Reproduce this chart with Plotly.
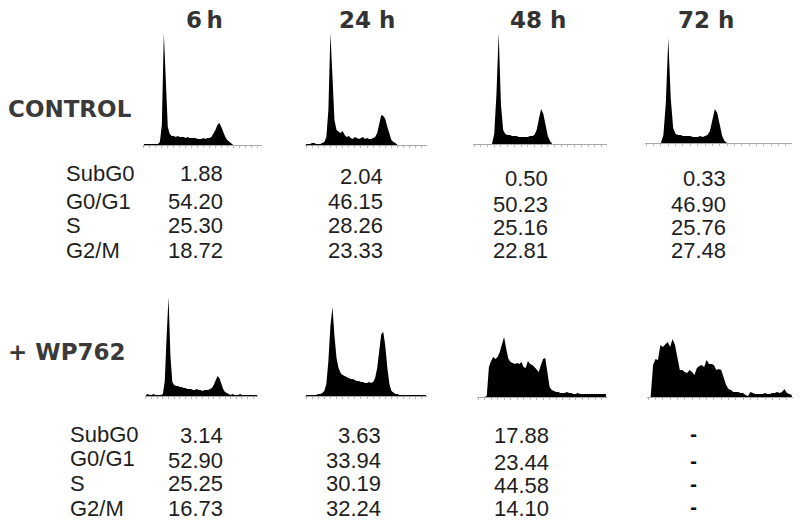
import plotly.graph_objects as go

# ---------------- data ----------------
times = ["6\u2009h", "24 h", "48 h", "72 h"]
groups = ["CONTROL", "+ WP762"]
phases = ["SubG0", "G0/G1", "S", "G2/M"]

ctrl_6h = [1.88, 54.20, 25.30, 18.72]
ctrl_24h = [2.04, 46.15, 28.26, 23.33]
ctrl_48h = [0.50, 50.23, 25.16, 22.81]
ctrl_72h = [0.33, 46.90, 25.76, 27.48]
wp_6h = [3.14, 52.90, 25.25, 16.73]
wp_24h = [3.63, 33.94, 30.19, 32.24]
wp_48h = [17.88, 23.44, 44.58, 14.10]
wp_72h = [None, None, None, None]

# DNA-content histograms (cell counts per channel, 60 channels)
hist_ctrl_6h = [1, 1, 1, 1, 1, 1, 1, 1,
                3, 20, 112, 60, 18, 11,
                9, 9, 8, 9, 8, 8, 8, 7, 8, 7, 7, 7, 7, 6, 6, 6, 7, 6, 7, 7,
                8, 11, 15, 20, 22, 18, 12, 8, 5, 3, 2,
                0, 0, 0, 0, 0, 0, 0, 0, 0, 0, 0, 0, 0, 0, 0]
hist_ctrl_24h = [1, 1, 1, 2, 2, 1, 1, 1, 2, 3,
                 8, 35, 112, 70, 25, 15,
                 13, 12, 14, 10, 8, 9, 7, 6, 8, 7, 6, 7, 8, 6, 7, 6, 6, 7,
                 8, 12, 22, 30, 29, 26, 18, 10, 5, 3, 2,
                 0, 0, 0, 0, 0, 0, 0, 0, 0, 0, 0, 0, 0, 0, 0]
hist_ctrl_48h = [0, 0, 0, 0, 0, 0, 0, 0, 0,
                 10, 50, 111, 40, 14,
                 10, 9, 9, 8, 8, 8, 7, 7, 7, 7, 7, 8, 8, 9,
                 14, 25, 35, 30, 18, 8, 3,
                 0, 0, 0, 0, 0, 0, 0, 0, 0, 0, 0, 0, 0, 0, 0, 0, 0, 0, 0, 0, 0, 0, 0, 0, 0]
hist_ctrl_72h = [0, 0, 0, 0, 0, 0, 0,
                 8, 40, 105, 45, 15,
                 9, 8, 8, 7, 7, 7, 7, 6, 6, 6, 7, 6, 7, 8,
                 12, 24, 34, 30, 18, 7, 2,
                 0, 0, 0, 0, 0, 0, 0, 0, 0, 0, 0, 0, 0, 0, 0, 0, 0, 0, 0, 0, 0, 0, 0, 0, 0, 0, 0]
hist_wp_6h = [1, 2, 1, 1, 2, 1, 1, 1, 1, 2,
              15, 60, 99, 40, 14,
              11, 10, 10, 9, 9, 8, 8, 7, 7, 7, 6, 6, 7, 6, 6, 5, 6, 6, 6, 7, 8,
              11, 16, 20, 18, 12, 7, 4, 3,
              2, 1, 2, 1, 1, 1, 2, 1, 1, 1, 1, 1, 1, 1, 1, 1]
hist_wp_24h = [1, 1, 1, 1, 1, 1, 2, 2, 3, 5,
               12, 35, 70, 89, 60, 38, 28, 23,
               21, 20, 19, 18, 17, 17, 16, 15, 15, 14, 14, 13, 13, 14, 13, 14,
               18, 28, 45, 62, 64, 50, 28, 12, 5, 3,
               2, 2, 1, 1, 1, 1, 1, 1, 1, 1, 1, 1, 1, 1, 1, 1]
hist_wp_48h = [0, 0, 0, 0, 1,
               30, 36, 40, 38, 40, 45, 52, 60, 48, 38,
               35, 34, 33, 34, 33, 35, 30, 29, 36, 33, 32, 30, 27, 25, 32,
               38, 39, 25, 10, 7,
               6, 5, 5, 4, 4, 4, 5, 4, 4, 3, 3, 4, 3, 3, 3, 3, 3, 3, 3, 3, 3, 3, 3, 3, 3]
hist_wp_72h = [0, 0, 32, 38, 37, 52, 50, 53, 55, 50, 58, 52, 40, 27, 27, 25, 24, 27, 25, 22,
               29, 31, 32, 30, 37, 33, 33, 32, 27, 28, 27, 20, 12, 8, 7, 5, 5, 5, 4, 4,
               2, 1, 5, 4, 3, 3, 3, 3, 4, 3, 3, 4, 4, 5, 4, 5, 8, 4, 3, 2]

# ---------------- layout helpers ----------------
W, H = 800, 524


def px(x):
    return x / W


def py(y):
    return 1 - y / H


fig = go.Figure()

# panel geometry: (x_left, x_right, baseline_y) in pixels
panels = [
    (hist_ctrl_6h, 143, 262, 145),
    (hist_ctrl_24h, 305, 427, 145),
    (hist_ctrl_48h, 473, 607, 144),
    (hist_ctrl_72h, 645, 792, 143),
    (hist_wp_6h, 145, 258, 396),
    (hist_wp_24h, 305, 427, 396),
    (hist_wp_48h, 477, 607, 397),
    (hist_wp_72h, 647, 793, 397),
]
YMAX = 120
for i, (vals, x0, x1, base) in enumerate(panels, start=1):
    n = len(vals)
    fig.add_trace(go.Scatter(
        x=list(range(n)), y=vals, mode="lines",
        line=dict(color="black", width=0), fill="tozeroy", fillcolor="black",
        xaxis=f"x{i}", yaxis=f"y{i}", showlegend=False, hoverinfo="skip"))
    fig.update_layout(**{
        f"xaxis{i}": dict(domain=[px(x0), px(x1)], range=[-0.5, n - 0.5],
                          anchor=f"y{i}", showline=True, linecolor="#a8a8a8",
                          linewidth=1, ticks="outside", ticklen=2, tickcolor="#b8b8b8",
                          dtick=3, showticklabels=False, showgrid=False,
                          zeroline=False, fixedrange=True),
        f"yaxis{i}": dict(domain=[py(base), py(base - YMAX)], range=[0, YMAX],
                          anchor=f"x{i}", visible=False, fixedrange=True),
    })

ann = []
head_font = dict(family="DejaVu Sans", size=23, color="#333333")
# column headings
for t, cx in zip(times, [205, 367, 538, 706]):
    ann.append(dict(text=f"<b>{t}</b>", x=px(cx), y=py(20), xanchor="center",
                    yanchor="middle", font=head_font))
# row labels
for g, cy in zip(groups, [109, 352]):
    ann.append(dict(text=f"<b>{g}</b>", x=px(6), y=py(cy), xanchor="left",
                    yanchor="middle", font=dict(family="DejaVu Sans", size=23, color="#3a3a3a")))

tab_font = dict(family="Liberation Sans", size=22, color="#1e1e1e")
# phase labels
for lx, rows in [(64, [174, 201, 225, 250]), (68, [434, 458, 483, 508])]:
    for p, ry in zip(phases, rows):
        ann.append(dict(text=p, x=px(lx), y=py(ry), xanchor="left", yanchor="middle",
                        font=tab_font))

# values
cols = [
    (ctrl_6h, 225, [174, 201, 225, 250]),
    (ctrl_24h, 385, [176, 202, 225, 250]),
    (ctrl_48h, 550, [178, 204, 227, 250]),
    (ctrl_72h, 728, [178, 204, 227, 251]),
    (wp_6h, 225, [435, 460, 483, 508]),
    (wp_24h, 383, [435, 460, 483, 508]),
    (wp_48h, 551, [435, 462, 485, 508]),
    (wp_72h, 699, [435, 462, 485, 508]),
]
for vals, rx, rows in cols:
    for v, ry in zip(vals, rows):
        if v is None:
            ann.append(dict(text="<b>-</b>", x=px(rx), y=py(ry), xanchor="right",
                            yanchor="middle", font=dict(family="DejaVu Sans", size=17,
                                                        color="#111111")))
        else:
            ann.append(dict(text=f"{v:.2f}", x=px(rx), y=py(ry), xanchor="right",
                            yanchor="middle", font=tab_font))

for a in ann:
    a.update(xref="paper", yref="paper", showarrow=False)

fig.update_layout(width=W, height=H, margin=dict(l=0, r=0, t=0, b=0),
                  paper_bgcolor="white", plot_bgcolor="rgba(0,0,0,0)",
                  annotations=ann, showlegend=False)

fig.write_html("out.html", config={"displayModeBar": False, "staticPlot": True},
               post_script="document.body.style.margin='0px';"
                           "document.body.style.overflow='hidden';")
